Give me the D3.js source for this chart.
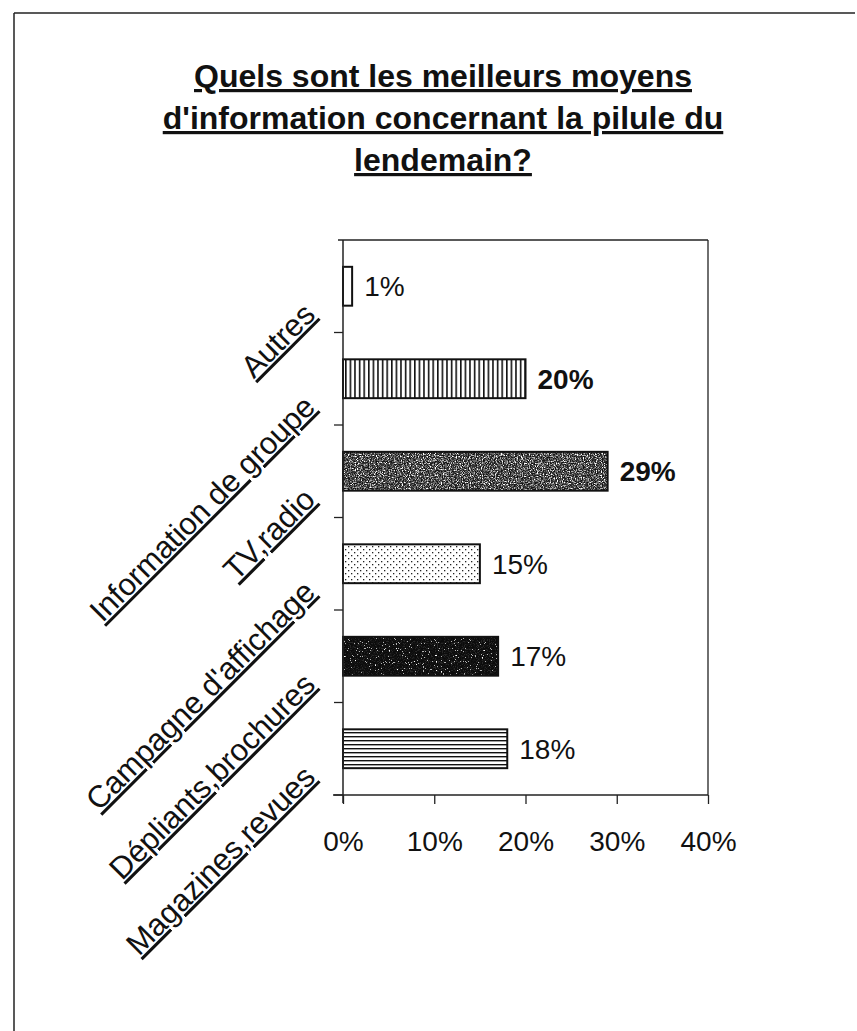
<!DOCTYPE html>
<html>
<head>
<meta charset="utf-8">
<script src="https://cdnjs.cloudflare.com/ajax/libs/d3/7.8.5/d3.min.js"></script>
<style>
  html, body { margin: 0; padding: 0; background: #fff; }
  svg { display: block; }
  text { font-family: "Liberation Sans", Arial, sans-serif; fill: #111; }
</style>
</head>
<body>
<svg id="chart" width="857" height="1031"></svg>
<script>
// ---- data ----
const titleLines = ["Quels sont les meilleurs moyens", "d'information concernant la pilule du", "lendemain?"];
const categories = ["Autres", "Information de groupe", "TV,radio", "Campagne d'affichage", "Dépliants,brochures", "Magazines,revues"];
const values = [1, 20, 29, 15, 17, 18];
const boldCategories = ["Information de groupe", "TV,radio"];
const xTicks = [0, 10, 20, 30, 40];
const xTickLabels = ["0%", "10%", "20%", "30%", "40%"];

// ---- layout ----
const W = 857, H = 1031;
const plot = { left: 343, right: 708, top: 240, bottom: 795 };

const svg = d3.select("#chart");
const defs = svg.append("defs");

// patterns
function linePattern(id, vertical, step, sw) {
  const p = defs.append("pattern").attr("id", id).attr("patternUnits", "userSpaceOnUse")
    .attr("width", step).attr("height", step);
  p.append("rect").attr("width", step).attr("height", step).attr("fill", "#fff");
  if (vertical) p.append("rect").attr("x", 0).attr("y", 0).attr("width", sw).attr("height", step).attr("fill", "#111");
  else p.append("rect").attr("x", 0).attr("y", 0).attr("width", step).attr("height", sw).attr("fill", "#111");
}
linePattern("pVert", true, 4.6, 1.6);
linePattern("pHorz", false, 4, 1.4);

const pd = defs.append("pattern").attr("id", "pDots").attr("patternUnits", "userSpaceOnUse")
  .attr("width", 6).attr("height", 6);
pd.append("rect").attr("width", 6).attr("height", 6).attr("fill", "#fff");
pd.append("rect").attr("x", 0).attr("y", 0).attr("width", 1.3).attr("height", 1.3).attr("fill", "#222");
pd.append("rect").attr("x", 3).attr("y", 3).attr("width", 1.3).attr("height", 1.3).attr("fill", "#222");

function speckFilter(id, table, seed) {
  const f = defs.append("filter").attr("id", id).attr("x", 0).attr("y", 0).attr("width", 1).attr("height", 1)
    .attr("color-interpolation-filters", "sRGB");
  f.append("feTurbulence").attr("type", "fractalNoise").attr("baseFrequency", 0.85).attr("numOctaves", 2).attr("seed", seed).attr("result", "n");
  f.append("feColorMatrix").attr("in", "n").attr("type", "matrix")
    .attr("values", "1 0 0 0 0  1 0 0 0 0  1 0 0 0 0  0 0 0 0 1").attr("result", "g");
  const ct = f.append("feComponentTransfer").attr("in", "g").attr("result", "t");
  ["feFuncR", "feFuncG", "feFuncB"].forEach(fn => ct.append(fn).attr("type", "discrete").attr("tableValues", table));
  f.append("feComposite").attr("in", "t").attr("in2", "SourceGraphic").attr("operator", "in");
}
speckFilter("fMid", "0.05 0.05 0.05 0.1 0.2 0.4 0.7 1 1 1", 4);
speckFilter("fDark", "0.05 0.05 0.05 0.05 0.05 0.08 0.15 0.7 1 1", 9);

const fills = {
  "Autres": { fill: "#fff" },
  "Information de groupe": { fill: "url(#pVert)" },
  "TV,radio": { fill: "#000", filter: "url(#fMid)" },
  "Campagne d'affichage": { fill: "url(#pDots)" },
  "Dépliants,brochures": { fill: "#000", filter: "url(#fDark)" },
  "Magazines,revues": { fill: "url(#pHorz)" }
};

// frame
svg.append("line").attr("x1", 14).attr("y1", 13).attr("x2", 855).attr("y2", 13).attr("stroke", "#222").attr("stroke-width", 1.5);
svg.append("line").attr("x1", 14).attr("y1", 13).attr("x2", 14).attr("y2", H).attr("stroke", "#222").attr("stroke-width", 1.5);

// title
const title = svg.append("text").attr("text-anchor", "middle")
  .style("font-weight", "bold").style("font-size", "32px").style("text-decoration", "underline");
titleLines.forEach((t, i) => {
  title.append("tspan").attr("x", 443).attr("y", 87 + i * 42).text(t);
});

// scales
const x = d3.scaleLinear().domain([0, 40]).range([plot.left, plot.right]);
const y = d3.scaleBand().domain(categories).range([plot.top, plot.bottom]).paddingInner(0.58).paddingOuter(0.29);

// plot box (top and right)
svg.append("line").attr("x1", plot.left - 5).attr("y1", plot.top).attr("x2", plot.right).attr("y2", plot.top).attr("stroke", "#222").attr("stroke-width", 1.3);
svg.append("line").attr("x1", plot.right).attr("y1", plot.top).attr("x2", plot.right).attr("y2", plot.bottom).attr("stroke", "#222").attr("stroke-width", 1.3);

// bars
const bars = svg.append("g");
categories.forEach((c, i) => {
  const f = fills[c];
  const r = bars.append("rect").attr("x", x(0)).attr("y", y(c)).attr("width", x(values[i]) - x(0)).attr("height", y.bandwidth())
    .attr("fill", f.fill);
  if (f.filter) r.attr("filter", f.filter);
  bars.append("rect").attr("x", x(0)).attr("y", y(c)).attr("width", x(values[i]) - x(0)).attr("height", y.bandwidth())
    .attr("fill", "none").attr("stroke", "#111").attr("stroke-width", 2);
});

// value labels
categories.forEach((c, i) => {
  svg.append("text").attr("x", x(values[i]) + 12).attr("y", y(c) + y.bandwidth() / 2 + 10)
    .style("font-size", "28px").style("font-weight", boldCategories.includes(c) ? "bold" : "normal")
    .text(values[i] + "%");
});

// y axis (category boundaries as ticks)
const step = (plot.bottom - plot.top) / categories.length;
const yAxisG = svg.append("g");
yAxisG.append("line").attr("x1", plot.left).attr("y1", plot.top).attr("x2", plot.left).attr("y2", plot.bottom + 8).attr("stroke", "#222").attr("stroke-width", 1.5);
d3.range(1, categories.length + 1).forEach(k => {
  const yy = plot.top + k * step;
  yAxisG.append("line").attr("x1", plot.left - 9).attr("y1", yy).attr("x2", plot.left).attr("y2", yy).attr("stroke", "#222").attr("stroke-width", 1.3);
});

// x axis
const xAxis = d3.axisBottom(x).tickValues(xTicks).tickSize(9).tickFormat((d, i) => xTickLabels[i]);
const xg = svg.append("g").attr("transform", `translate(0,${plot.bottom})`).call(xAxis);
xg.select(".domain").attr("d", `M${plot.left - 10},0H${plot.right}`).attr("stroke", "#222").attr("stroke-width", 1.5);
xg.selectAll(".tick line").attr("stroke", "#222").attr("stroke-width", 1.3);
xg.selectAll(".tick text").attr("y", 36).attr("dy", "0.71em").style("font-size", "28px")
  .style("font-family", '"Liberation Sans", Arial, sans-serif').attr("fill", "#111");

// category labels (rotated -45)
categories.forEach(c => {
  const cy = y(c) + y.bandwidth() / 2;
  const ax = plot.left - 26, ay = cy + 30;
  svg.append("text").attr("transform", `translate(${ax},${ay}) rotate(-45)`)
    .attr("text-anchor", "end").style("font-size", "31px").style("text-decoration", "underline")
    .text(c);
});
</script>
</body>
</html>
